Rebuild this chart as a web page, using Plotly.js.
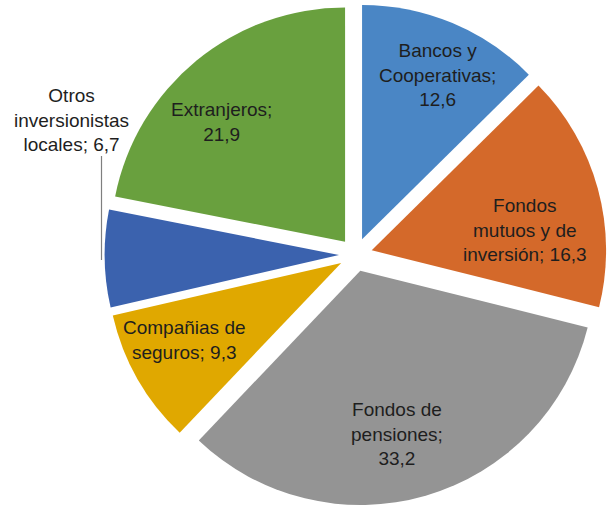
<!DOCTYPE html>
<html>
<head>
<meta charset="utf-8">
<script src="https://cdn.plot.ly/plotly-3.0.1.min.js"></script>
<style>html,body{margin:0;padding:0;background:#fff;}#chart{width:609px;height:507px;}</style>
</head>
<body>
<div id="chart"></div>
<script>
// Data
var labelLines = [
  ["Bancos y", "Cooperativas;"],
  ["Fondos", "mutuos y de", "inversión; "],
  ["Fondos de", "pensiones;"],
  ["Compañias de", "seguros; "],
  ["Otros", "inversionistas", "locales; "],
  ["Extranjeros;"]
];
var categories = ["Bancos y Cooperativas", "Fondos mutuos y de inversión", "Fondos de pensiones", "Compañias de seguros", "Otros inversionistas locales", "Extranjeros"];
var values = [12.6, 16.3, 33.2, 9.3, 6.7, 21.9];
var colors = ["#4A86C5", "#D4692A", "#949494", "#E0A800", "#3B62AE", "#69A03E"];

// label styling/placement (pixels in the 609x507 figure)
var labelPos = [[437, 75], [525, 230], [397, 434], [184, 340], [71, 120], [221, 122]];
// whether the value goes on a new line
var valueOnNewLine = [true, false, true, false, false, true];

var W = 609, H = 507;
function fmt(v) { return v.toFixed(1).replace(".", ","); }

var annotations = categories.map(function (c, i) {
  var lines = labelLines[i].slice();
  if (valueOnNewLine[i]) lines.push(fmt(values[i]));
  else lines[lines.length - 1] = lines[lines.length - 1] + fmt(values[i]);
  return {
    text: lines.join("<br>"),
    x: labelPos[i][0] / W, y: 1 - labelPos[i][1] / H,
    xref: "paper", yref: "paper",
    xanchor: "center", yanchor: "middle",
    showarrow: false, align: "center",
    font: { family: "Liberation Sans, Arial, sans-serif", size: 19, color: "#1e1e1e" }
  };
});

var trace = {
  type: "pie",
  labels: categories,
  values: values,
  sort: false,
  direction: "clockwise",
  rotation: 0,
  pull: [0.071, 0.071, 0.071, 0.071, 0.071, 0.071],
  marker: { colors: colors, line: { width: 0 } },
  textinfo: "none",
  hoverinfo: "label+value",
  domain: { x: [0.17, 0.998], y: [0.0026, 0.9928] }
};

var layout = {
  width: W, height: H,
  margin: { l: 0, r: 0, t: 0, b: 0 },
  showlegend: false,
  paper_bgcolor: "#ffffff",
  annotations: annotations,
  shapes: [{
    type: "line", xref: "paper", yref: "paper",
    x0: 101.5 / W, x1: 101.5 / W, y0: 1 - 156 / H, y1: 1 - 260 / H,
    line: { color: "#7f7f7f", width: 1.2 }
  }]
};

Plotly.newPlot("chart", [trace], layout, { displayModeBar: false, staticPlot: true });
</script>
</body>
</html>
